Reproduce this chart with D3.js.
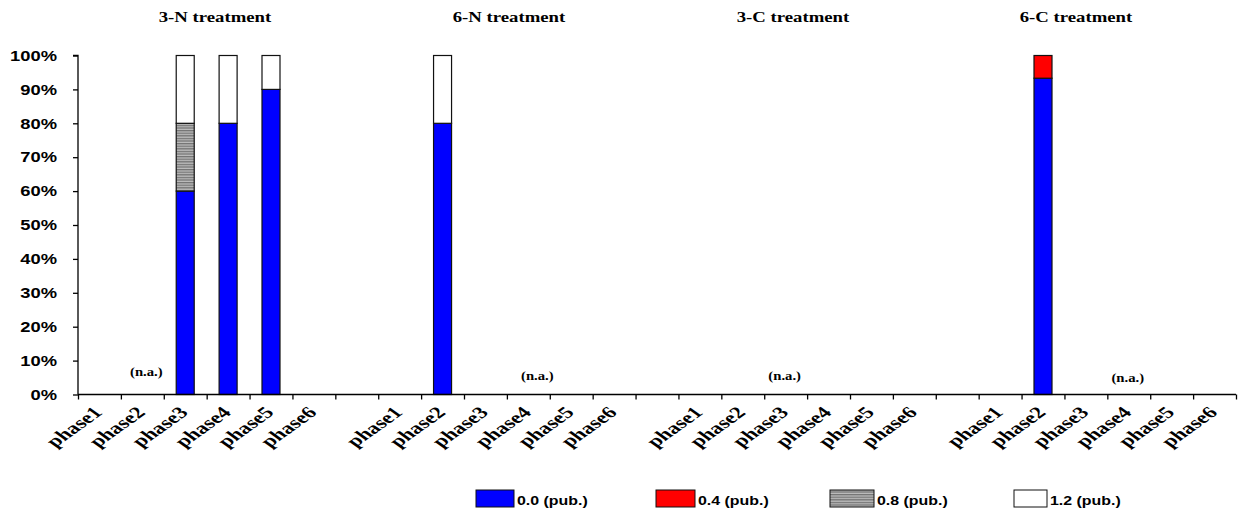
<!DOCTYPE html>
<html><head><meta charset="utf-8">
<script src="https://cdn.jsdelivr.net/npm/d3@7"></script>
<style>body{margin:0;background:#fff}svg{display:block}</style>
</head><body>
<svg id="chart" width="1238" height="514"></svg>
<script>
// ---------- data ----------
const groups = ["3-N treatment", "6-N treatment", "3-C treatment", "6-C treatment"];
const phases = ["phase1", "phase2", "phase3", "phase4", "phase5", "phase6"];
const seriesNames = ["0.0 (pub.)", "0.4 (pub.)", "0.8 (pub.)", "1.2 (pub.)"];
// values (%) per group, per phase
const s00 = [[0, 0, 60, 80, 90, 0], [0, 80, 0, 0, 0, 0], [0, 0, 0, 0, 0, 0], [0, 93.3, 0, 0, 0, 0]];
const s04 = [[0, 0, 0, 0, 0, 0], [0, 0, 0, 0, 0, 0], [0, 0, 0, 0, 0, 0], [0, 6.7, 0, 0, 0, 0]];
const s08 = [[0, 0, 20, 0, 0, 0], [0, 0, 0, 0, 0, 0], [0, 0, 0, 0, 0, 0], [0, 0, 0, 0, 0, 0]];
const s12 = [[0, 0, 20, 20, 10, 0], [0, 20, 0, 0, 0, 0], [0, 0, 0, 0, 0, 0], [0, 0, 0, 0, 0, 0]];
const naPhase = ["phase2", "phase4", "phase3", "phase4"];
const yTicks = [0, 10, 20, 30, 40, 50, 60, 70, 80, 90, 100];

(function () {
// ---------- layout ----------
const svg = d3.select("#chart");
const SX = 1.28; // horizontal stretch of the original picture
const pLeft = 78, pRight = 1236, pTop = 55.5, pBottom = 394.5;
const SERIF = "'Liberation Serif', 'Times New Roman', serif";
const SANS = "'Liberation Sans', Arial, sans-serif";

const cats = [];
groups.forEach((g, gi) => {
  phases.forEach(p => cats.push(gi + "|" + p));
  if (gi < groups.length - 1) cats.push("gap" + gi);
});
const x = d3.scaleBand().domain(cats).range([pLeft, pRight]).paddingInner(0).paddingOuter(0);
const xb = d3.scaleLinear().domain([0, cats.length]).range([pLeft, pRight]);
const y = d3.scaleLinear().domain([0, 100]).range([pBottom, pTop]);

const colors = ["#0000ff", "#ff0000", "url(#hatch)", "#ffffff"];
const defs = svg.append("defs");
const pat = defs.append("pattern").attr("id", "hatch").attr("patternUnits", "userSpaceOnUse")
  .attr("width", 6).attr("height", 2.6);
pat.append("rect").attr("width", 6).attr("height", 2.6).attr("fill", "#bdbdbd");
pat.append("rect").attr("width", 6).attr("height", 1.3).attr("fill", "#737373");

function stretchedText(sel, px, py, txt, opts) {
  const sx = opts.sx || SX;
  return sel.append("text")
    .attr("transform", `translate(${px},${py}) scale(${sx},1)`)
    .attr("text-anchor", opts.anchor || "middle")
    .attr("font-family", opts.family)
    .attr("font-weight", "bold")
    .attr("font-size", opts.size)
    .attr("fill", "#000")
    .text(txt);
}

// diagonal label: every glyph placed along the baseline, text ends at (px,py)
function diagText(sel, px, py, txt, size, family, sx, deg) {
  const tmp = sel.append("text").attr("font-family", family).attr("font-weight", "bold")
    .attr("font-size", size).text(txt);
  const node = tmp.node();
  const W = node.getComputedTextLength();
  const offs = [];
  for (let i = 0; i < txt.length; i++) {
    offs.push(i === 0 ? 0 : node.getSubStringLength(0, i));
  }
  tmp.remove();
  const a = deg * Math.PI / 180, c = Math.cos(a), s = Math.sin(a);
  const xs = offs.map(o => (px / sx) + (o - W) * c);
  const ys = offs.map(o => py + (o - W) * s);
  return sel.append("text")
    .attr("transform", `scale(${sx},1)`)
    .attr("x", xs.join(" "))
    .attr("y", ys.join(" "))
    .attr("rotate", offs.map(() => deg).join(" "))
    .attr("font-family", family).attr("font-weight", "bold").attr("font-size", size)
    .attr("fill", "#000")
    .text(txt);
}

// ---------- bars ----------
const allSeries = [s00, s04, s08, s12];
const rows = [];
groups.forEach((g, gi) => phases.forEach((p, pi) => {
  const r = { key: gi + "|" + p };
  seriesNames.forEach((s, si) => r[s] = allSeries[si][gi][pi]);
  rows.push(r);
}));
const stack = d3.stack().keys(seriesNames)(rows);
const bw = 18;
const barG = svg.append("g");
stack.forEach((layer, si) => {
  barG.selectAll(null).data(layer.filter(d => d[1] - d[0] > 0)).enter().append("rect")
    .attr("x", d => x(d.data.key) + (x.bandwidth() - bw) / 2)
    .attr("width", bw)
    .attr("y", d => y(d[1]))
    .attr("height", d => y(d[0]) - y(d[1]))
    .attr("fill", colors[si])
    .attr("stroke", "#111")
    .attr("stroke-width", 1.2);
});

// ---------- axes ----------
const yAxis = svg.append("g").attr("transform", `translate(${pLeft},0)`)
  .call(d3.axisLeft(y).tickValues(yTicks).tickSize(5).tickFormat(""));
yAxis.select(".domain").attr("d", `M-5,${y(100)}H0V${y(0)}`);
const xAxis = svg.append("g").attr("transform", `translate(0,${pBottom})`)
  .call(d3.axisBottom(xb).tickValues(d3.range(0, cats.length + 1)).tickSize(5).tickFormat(""));
xAxis.select(".domain").attr("d", `M${pLeft},0H${pRight}`);
svg.selectAll(".domain, .tick line").attr("stroke", "#000").attr("stroke-width", 1.3);

yTicks.forEach(v => {
  stretchedText(svg, 57, y(v) + 5.2, v + "%", { family: SANS, size: 14.8, anchor: "end", sx: 1.24 });
});

const xl = svg.append("g");
groups.forEach((g, gi) => phases.forEach(p => {
  const cx = x(gi + "|" + p) + x.bandwidth() / 2;
  diagText(xl, cx + 4, pBottom + 19, p, 16.5, SERIF, 1.4, -45);
}));

const titleX = [215, 509, 793, 1076];
groups.forEach((g, gi) => {
  stretchedText(svg, titleX[gi], 21.5, g, { family: SERIF, size: 15, anchor: "middle", sx: 1.25 });
});

const naDx = [4, 9, -1, -1];
const naY = [376, 380, 380, 382];
groups.forEach((g, gi) => {
  const cx = x(gi + "|" + naPhase[gi]) + x.bandwidth() / 2 + naDx[gi];
  stretchedText(svg, cx, naY[gi], "(n.a.)", { family: SERIF, size: 11.5, anchor: "middle" });
});

// ---------- legend ----------
const legBoxX = [476, 656, 830, 1014];
const legBoxW = [38, 39, 44, 33];
const leg = svg.append("g");
seriesNames.forEach((s, si) => {
  leg.append("rect").attr("x", legBoxX[si]).attr("y", 490).attr("width", legBoxW[si]).attr("height", 17)
    .attr("fill", colors[si]).attr("stroke", "#111").attr("stroke-width", 1);
  stretchedText(leg, legBoxX[si] + legBoxW[si] + 3, 504.5, s, { family: SANS, size: 13.5, anchor: "start", sx: 1.18 });
});
})();
</script>
</body></html>
